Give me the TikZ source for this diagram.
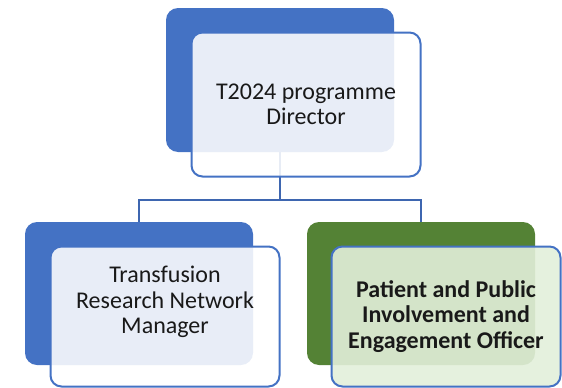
\documentclass[tikz,border=0pt]{standalone}
\usepackage{fontspec}
\setmainfont{Carlito}
\definecolor{boxblue}{HTML}{4472C4}
\definecolor{boxgreen}{HTML}{548235}
\definecolor{palegreen}{HTML}{E2EFDA}
\definecolor{linkblue}{HTML}{3E66B0}
\begin{document}
\begin{tikzpicture}[x=1pt,y=-1pt,
		backbox/.style={rectangle,rounded corners=12pt,minimum width=228pt,minimum height=143pt,inner sep=0pt},
		frontbox/.style={rectangle,rounded corners=11pt,draw=boxblue,line width=2pt,minimum width=229pt,minimum height=140pt,inner sep=0pt,align=center,text=black!90,font=\fontsize{24}{25.5}\selectfont},
		link/.style={draw=linkblue,line width=2pt}]
		\useasboundingbox (0,0) rectangle (562,388);
		\node[backbox,fill=boxblue,minimum height=144pt] (dirback) at (280,80) {};
		\node[backbox,fill=boxblue] (trnback) at (139,293.5) {};
		\node[backbox,fill=boxgreen] (ppiback) at (421,293.5) {};
		\draw[link] (dirback.south) -- (dirback.south |- 0,200) -| (trnback.north);
		\draw[link] (dirback.south |- 0,200) -| (ppiback.north);
		\node[frontbox,fill=white,fill opacity=0.88,text opacity=1,minimum height=144pt] (dir) at (306,104.5) {T2024 programme\\Director};
		\node[frontbox,fill=white,fill opacity=0.88,text opacity=1,text depth=33pt] (trn) at (165,316.5) {Transfusion\\Research Network\\Manager};
		\node[frontbox,fill=palegreen,fill opacity=0.9,text opacity=1,font=\fontsize{24}{25.5}\selectfont\bfseries] (ppi) at (446,316.5) {Patient and Public\\Involvement and\\Engagement Officer};
	\end{tikzpicture}
\end{document}
